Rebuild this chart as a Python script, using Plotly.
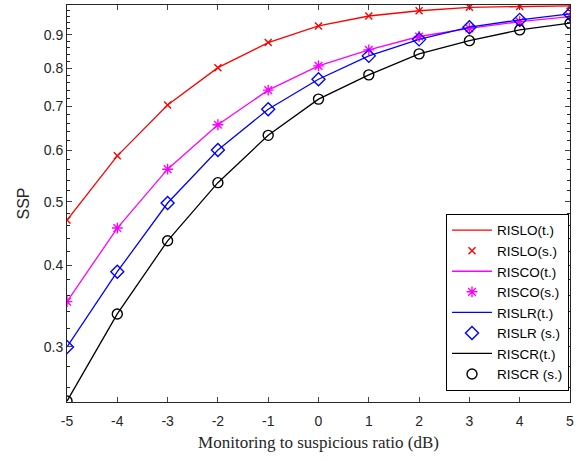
import plotly.graph_objects as go

SNR_DB = [-5, -4, -3, -2, -1, 0, 1, 2, 3, 4, 5]
X_LABELS = ["-5", "-4", "-3", "-2", "-1", "0", "1", "2", "3", "4", "5"]

RISLO = [0.469, 0.588, 0.703, 0.802, 0.876, 0.929, 0.962, 0.980, 0.992, 0.995, 0.997]
RISCO = [0.352, 0.456, 0.561, 0.656, 0.741, 0.807, 0.854, 0.895, 0.921, 0.943, 0.960]
RISLR = [0.300, 0.391, 0.498, 0.600, 0.693, 0.770, 0.836, 0.886, 0.925, 0.949, 0.969]
RISCR = [0.248, 0.337, 0.436, 0.535, 0.632, 0.718, 0.782, 0.842, 0.882, 0.916, 0.938]

Y_TICKS = [0.3, 0.4, 0.5, 0.6, 0.7, 0.8, 0.9]
Y_MINOR = [0.26, 0.28, 0.32, 0.34, 0.36, 0.38, 0.42, 0.44, 0.46, 0.48,
           0.52, 0.54, 0.56, 0.58, 0.62, 0.64, 0.66, 0.68, 0.72, 0.74,
           0.76, 0.78, 0.82, 0.84, 0.86, 0.88, 0.92, 0.94, 0.96, 0.98]

SERIES = [
    ("RISLO(t.)", "RISLO(s.)", RISLO, "#ff0000", "x-thin-open", 7),
    ("RISCO(t.)", "RISCO(s.)", RISCO, "#ff00ff", "asterisk-open", 9),
    ("RISLR(t.)", "RISLR (s.)", RISLR, "#0000ff", "diamond-open", 10),
    ("RISCR(t.)", "RISCR (s.)", RISCR, "#000000", "circle-open", 10),
]

AXIS_COLOR = "#262626"

fig = go.Figure()
for line_name, marker_name, values, color, symbol, size in SERIES:
    fig.add_trace(go.Scatter(
        x=SNR_DB, y=values, name=line_name, mode="lines",
        line=dict(color=color, width=1.3),
    ))
    fig.add_trace(go.Scatter(
        x=SNR_DB, y=values, name=marker_name, mode="markers",
        marker=dict(symbol=symbol, size=size, color=color,
                    line=dict(color=color, width=1.4)),
    ))

fig.update_layout(
    width=587, height=460,
    margin=dict(l=67, r=17, t=5, b=58),
    paper_bgcolor="white", plot_bgcolor="white",
    font=dict(family="Liberation Sans, Arial", size=14, color=AXIS_COLOR),
    showlegend=True,
    legend=dict(
        x=0.998, y=0.028, xanchor="right", yanchor="bottom",
        bordercolor="#000000", borderwidth=1, bgcolor="white",
        font=dict(size=13.5, color="#000000"),
        tracegroupgap=0, itemwidth=40,
        entrywidth=136, entrywidthmode="pixels",
    ),
)

fig.update_xaxes(
    range=[-5, 5], tickvals=SNR_DB, ticktext=X_LABELS,
    ticks="inside", ticklen=5, ticklabelstandoff=6,
    showline=True, linecolor=AXIS_COLOR, linewidth=1, mirror="ticks",
    showgrid=False, zeroline=False,
    title=dict(text="Monitoring to suspicious ratio (dB)",
               font=dict(family="Liberation Serif, Times New Roman", size=17,
                         color=AXIS_COLOR), standoff=8),
)
fig.update_yaxes(
    type="log", range=[-0.607, 0.0], tickvals=Y_TICKS,
    ticktext=[str(v) for v in Y_TICKS],
    ticks="inside", ticklen=5,
    minor=dict(tickvals=Y_MINOR, ticks="inside", ticklen=3, tickcolor=AXIS_COLOR),
    showline=True, linecolor=AXIS_COLOR, linewidth=1, mirror="ticks",
    showgrid=False, zeroline=False,
    title=dict(text="SSP", font=dict(size=16, color=AXIS_COLOR), standoff=10),
)

fig.write_html("out.html", config={"displayModeBar": False},
               post_script="document.body.style.margin = '0';")
